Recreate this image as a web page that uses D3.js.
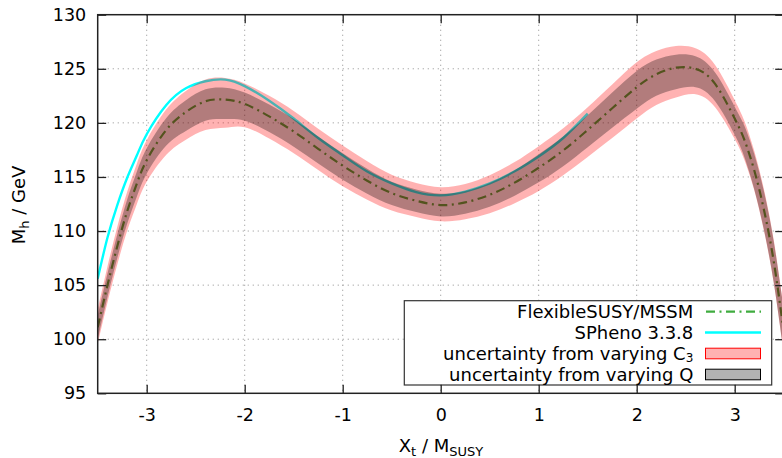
<!DOCTYPE html>
<html><head><meta charset="utf-8">
<script src="https://cdn.jsdelivr.net/npm/d3@7"></script>
<style>body{margin:0;background:#fff;overflow:hidden} text{font-family:"DejaVu Sans",sans-serif}</style>
</head><body><svg id="c" width="782" height="458"></svg>
<script>
// ---- data ----
const xs     = [-3.5,-3.4,-3.3,-3.2,-3.1,-3.0,-2.8,-2.6,-2.4,-2.2,-2.0,-1.75,-1.5,-1.25,-1.0,-0.75,-0.5,-0.25,0,0.25,0.5,0.75,1.0,1.25,1.5,1.75,2.0,2.2,2.4,2.6,2.8,3.0,3.1,3.2,3.3,3.4,3.5];
const fsMh   = [101.1,105.0,108.6,111.8,114.4,116.55,119.35,121.0,122.0,122.15,121.75,120.6,119.2,117.6,116.05,114.65,113.5,112.8,112.4,112.65,113.35,114.45,115.85,117.45,119.35,121.35,123.3,124.5,125.1,125.0,123.6,120.4,118.4,115.6,111.9,107.1,100.7];
// uncertainty band extents below / above the central FlexibleSUSY value (GeV)
const qDown  = [1.1,1.1,1.1,1.15,1.2,1.25,1.45,1.75,1.8,1.8,1.55,1.45,1.4,1.35,1.3,1.2,1.1,1.05,1.05,1.05,1.1,1.2,1.35,1.45,1.6,1.8,2.0,2.0,2.0,1.7,1.6,1.5,1.6,1.75,1.85,1.95,2.0];
const qUp    = [1.1,1.1,1.1,1.1,1.1,1.1,1.1,1.1,1.1,1.1,1.05,1.1,1.15,1.15,1.15,1.1,1.05,1.05,1.05,1.05,1.1,1.15,1.25,1.3,1.35,1.45,1.5,1.35,1.2,1.15,1.05,1.1,1.3,1.5,1.7,1.85,2.0];
const c3Down = [1.5,1.6,1.7,1.8,1.9,2.0,2.3,2.55,2.65,2.6,2.15,2.05,2.0,1.95,1.9,1.75,1.6,1.5,1.5,1.55,1.7,1.9,2.15,2.3,2.5,2.75,2.9,2.85,2.75,2.35,2.15,1.9,1.85,1.85,1.95,2.0,2.1];
const c3Up   = [1.7,1.75,1.8,1.8,1.85,1.85,1.9,1.95,2.0,2.0,1.9,1.9,1.9,1.85,1.85,1.8,1.7,1.65,1.65,1.7,1.8,1.9,2.0,2.05,2.1,2.2,2.3,2.15,2.0,1.9,1.75,1.7,1.75,1.8,1.9,2.0,2.1];
const spX    = [-3.5,-3.4,-3.3,-3.2,-3.1,-3.0,-2.8,-2.6,-2.4,-2.2,-2.0,-1.75,-1.5,-1.25,-1.0,-0.75,-0.5,-0.25,0,0.25,0.5,0.75,1.0,1.25,1.5];
const spMh   = [105.6,109.4,112.4,114.9,117.0,118.95,121.65,123.2,123.85,124.0,123.4,122.05,120.4,118.6,117.0,115.5,114.4,113.6,113.3,113.65,114.4,115.5,116.9,118.6,120.85];
const xTicks = [-3,-2,-1,0,1,2,3];
const yTicks = [95,100,105,110,115,120,125,130];
const legendLabels = ["FlexibleSUSY/MSSM","SPheno 3.3.8","uncertainty from varying C","uncertainty from varying Q"];

// ---- layout ----
const L = 97.7, R = 783.7, T = 14.7, B = 393.3;
const svg = d3.select("#c");
const x = d3.scaleLinear().domain([-3.5,3.5]).range([L,R]);
const y = d3.scaleLinear().domain([95,130]).range([B,T]);

svg.append("defs").append("clipPath").attr("id","clip")
  .append("rect").attr("x",L).attr("y",T).attr("width",R-L).attr("height",B-T);

// grid
const grid = svg.append("g").attr("stroke","#a0a0a0").attr("stroke-width",1).attr("stroke-dasharray","1.2,3.8");
xTicks.forEach(t=>grid.append("line").attr("x1",x(t)).attr("x2",x(t)).attr("y1",T).attr("y2",B));
yTicks.filter(t=>t>95&&t<130).forEach(t=>grid.append("line").attr("y1",y(t)).attr("y2",y(t)).attr("x1",L).attr("x2",R));

const plot = svg.append("g").attr("clip-path","url(#clip)");
const curve = d3.curveNatural;
const idx = d3.range(xs.length);

// lines (drawn under the transparent bands)
plot.append("path").datum(idx)
  .attr("d", d3.line().x(i=>x(xs[i])).y(i=>y(fsMh[i])).curve(curve))
  .attr("fill","none").attr("stroke","#3fac3f").attr("stroke-width",2.2)
  .attr("stroke-dasharray","9,4.5,2,4.5");
plot.append("path").datum(d3.range(spX.length))
  .attr("d", d3.line().x(i=>x(spX[i])).y(i=>y(spMh[i])).curve(curve))
  .attr("fill","none").attr("stroke","#00ffff").attr("stroke-width",2.4);

// bands
plot.append("path").datum(idx)
  .attr("d", d3.area().x(i=>x(xs[i])).y0(i=>y(fsMh[i]-c3Down[i])).y1(i=>y(fsMh[i]+c3Up[i])).curve(curve))
  .attr("fill","rgb(255,0,0)").attr("fill-opacity",0.3);
plot.append("path").datum(idx)
  .attr("d", d3.area().x(i=>x(xs[i])).y0(i=>y(fsMh[i]-qDown[i])).y1(i=>y(fsMh[i]+qUp[i])).curve(curve))
  .attr("fill","rgb(0,0,0)").attr("fill-opacity",0.3);

// legend
const lg = svg.append("g");
lg.append("rect").attr("x",404.3).attr("y",300.7).attr("width",367.4).attr("height",84.3)
  .attr("fill","#fff").attr("stroke","#333").attr("stroke-width",1.2);
const rowY = [311.7,332.5,353.5,374.5];
legendLabels.forEach((lab,i)=>{
  const t = lg.append("text").attr("x",693.3).attr("y",rowY[i]+6.5).attr("text-anchor","end")
    .attr("font-size",18).attr("fill","#000").text(lab);
  if(i===2) t.append("tspan").attr("dy",2).attr("font-size",12).text("3");
});
lg.append("line").attr("x1",705).attr("x2",761).attr("y1",rowY[0]).attr("y2",rowY[0])
  .attr("stroke","#3fac3f").attr("stroke-width",2.2).attr("stroke-dasharray","9,4.5,2,4.5")
  .attr("stroke-dashoffset",-1);
lg.append("line").attr("x1",705).attr("x2",761).attr("y1",rowY[1]).attr("y2",rowY[1])
  .attr("stroke","#00ffff").attr("stroke-width",2.4);
lg.append("rect").attr("x",705.5).attr("y",rowY[2]-5.3).attr("width",55).attr("height",10.6)
  .attr("fill","rgb(255,0,0)").attr("fill-opacity",0.3).attr("stroke","#ff0000").attr("stroke-width",1);
lg.append("rect").attr("x",705.5).attr("y",rowY[3]-5.3).attr("width",55).attr("height",10.6)
  .attr("fill","rgb(0,0,0)").attr("fill-opacity",0.3).attr("stroke","#000").attr("stroke-width",1);

// axes
function styleAxis(g){
  g.select(".domain").remove();
  g.selectAll(".tick line").attr("stroke","#222").attr("stroke-width",1.3);
  g.selectAll(".tick text").attr("font-size",17.5).attr("fill","#000").attr("font-family","DejaVu Sans, sans-serif");
}
svg.append("g").attr("transform",`translate(0,${B})`)
  .call(d3.axisBottom(x).tickValues(xTicks).tickSize(-8.5).tickPadding(15.5).tickFormat(d=>String(d))).call(styleAxis);
svg.append("g").attr("transform",`translate(0,${T})`)
  .call(d3.axisTop(x).tickValues(xTicks).tickSize(-8.5).tickFormat("")).call(styleAxis);
svg.append("g").attr("transform",`translate(${L},0)`)
  .call(d3.axisLeft(y).tickValues(yTicks).tickSize(-8.5).tickPadding(11.5).tickFormat(d=>String(d))).call(styleAxis);
svg.append("g").attr("transform",`translate(${R},0)`)
  .call(d3.axisRight(y).tickValues(yTicks).tickSize(-8.5).tickFormat("")).call(styleAxis);

// border
svg.append("rect").attr("x",L).attr("y",T).attr("width",R-L).attr("height",B-T)
  .attr("fill","none").attr("stroke","#222").attr("stroke-width",1.5);

// axis titles
const xt = svg.append("text").attr("x",441).attr("y",452).attr("text-anchor","middle")
  .attr("font-size",18).attr("fill","#000");
xt.append("tspan").text("X");
xt.append("tspan").attr("dy",4).attr("font-size",13).text("t");
xt.append("tspan").attr("dy",-4).text(" / M");
xt.append("tspan").attr("dy",4).attr("font-size",13).text("SUSY");

const yt = svg.append("text").attr("transform","translate(25,205) rotate(-90)").attr("text-anchor","middle")
  .attr("font-size",18).attr("fill","#000");
yt.append("tspan").text("M");
yt.append("tspan").attr("dy",4).attr("font-size",13).text("h");
yt.append("tspan").attr("dy",-4).text(" / GeV");
</script>
</body></html>
